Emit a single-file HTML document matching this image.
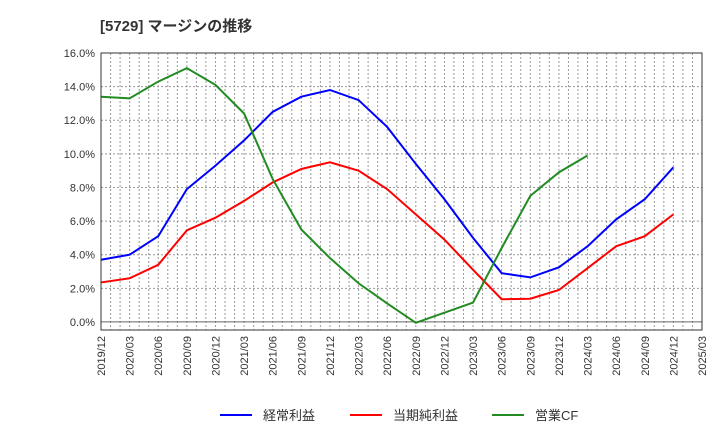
<!DOCTYPE html>
<html><head><meta charset="utf-8"><style>
body{margin:0;background:#fff;font-family:"Liberation Sans","Noto Sans CJK JP",sans-serif;}
</style></head><body>
<svg id="c" width="720" height="440" xmlns="http://www.w3.org/2000/svg">
<text x="100" y="31" font-size="15" font-weight="bold" fill="#333">[5729]  マージンの推移</text>
<g id="grid"></g><g id="series"></g><g id="axes"></g>
<rect x="101" y="53" width="601" height="277" fill="none" stroke="#333"/>
<g>
<line x1="220" y1="415" x2="252" y2="415" stroke="#0000ff" stroke-width="2"/><text x="263" y="420" font-size="13" fill="#333">経常利益</text>
<line x1="350" y1="415" x2="382" y2="415" stroke="#ff0000" stroke-width="2"/><text x="393" y="420" font-size="13" fill="#333">当期純利益</text>
<line x1="492" y1="415" x2="524" y2="415" stroke="#228b22" stroke-width="2"/><text x="535" y="420" font-size="13" fill="#333">営業CF</text>
</g>
</svg>
<script>
const categories=["2019/12","2020/03","2020/06","2020/09","2020/12","2021/03","2021/06","2021/09","2021/12","2022/03","2022/06","2022/09","2022/12","2023/03","2023/06","2023/09","2023/12","2024/03","2024/06","2024/09","2024/12","2025/03"];
const ordinaryProfit=[3.7,4.0,5.1,7.9,9.3,10.8,12.5,13.4,13.8,13.2,11.6,9.4,7.3,5.0,2.9,2.65,3.25,4.5,6.1,7.3,9.2];
const netProfit=[2.35,2.6,3.4,5.45,6.2,7.2,8.3,9.1,9.5,9.0,7.9,6.4,4.9,3.1,1.35,1.38,1.9,3.2,4.5,5.1,6.4];
const operatingCF=[13.4,13.3,14.3,15.1,14.1,12.4,8.5,5.5,3.8,2.3,1.1,-0.05,0.55,1.15,4.4,7.5,8.9,9.9];
const yTicks=[0,2,4,6,8,10,12,14,16];
const X0=101,X1=702,Y0=330,Y1=53,YMIN=-0.48,YMAX=16;
const NS="http://www.w3.org/2000/svg";
function xs(i){return X0+(X1-X0)*i/(categories.length-1);}
function ys(v){return Y0-(v-YMIN)/(YMAX-YMIN)*(Y0-Y1);}
function mk(t,a,p){const e=document.createElementNS(NS,t);for(const k in a)e.setAttribute(k,a[k]);p.appendChild(e);return e;}
const grid=document.getElementById('grid'),axes=document.getElementById('axes'),ser=document.getElementById('series');
for(let m=1;m<(categories.length-1)*3;m++){const x=X0+(X1-X0)*m/((categories.length-1)*3);
const l=mk('line',{x1:x,x2:x,y1:Y1,y2:Y0,stroke:'#999','stroke-dasharray':'2,2','stroke-width':1},grid);

}
yTicks.forEach(v=>{const y=ys(v);
const l=mk('line',{x1:X0,x2:X1,y1:y,y2:y,stroke:v===0?'#666':'#999','stroke-dasharray':v===0?'none':'2,2','stroke-width':1},grid);


const t=mk('text',{x:X0-6,y:y+4,'font-size':11,'text-anchor':'end',fill:'#333'},axes);t.textContent=v.toFixed(1)+'%';

});
categories.forEach((c,i)=>{const x=xs(i);
const t=mk('text',{transform:`translate(${x+4},${Y0+6}) rotate(-90)`,'font-size':11,'text-anchor':'end',fill:'#333'},axes);t.textContent=c;

});
[[ordinaryProfit,'#0000ff','ordinary-profit-line'],[netProfit,'#ff0000','net-profit-line'],[operatingCF,'#228b22','operating-cf-line']].forEach(([d,c,n])=>{
const p=mk('polyline',{points:d.map((v,i)=>xs(i)+','+ys(v)).join(' '),fill:'none',stroke:c,'stroke-width':2},ser);

});
</script>
</body></html>
